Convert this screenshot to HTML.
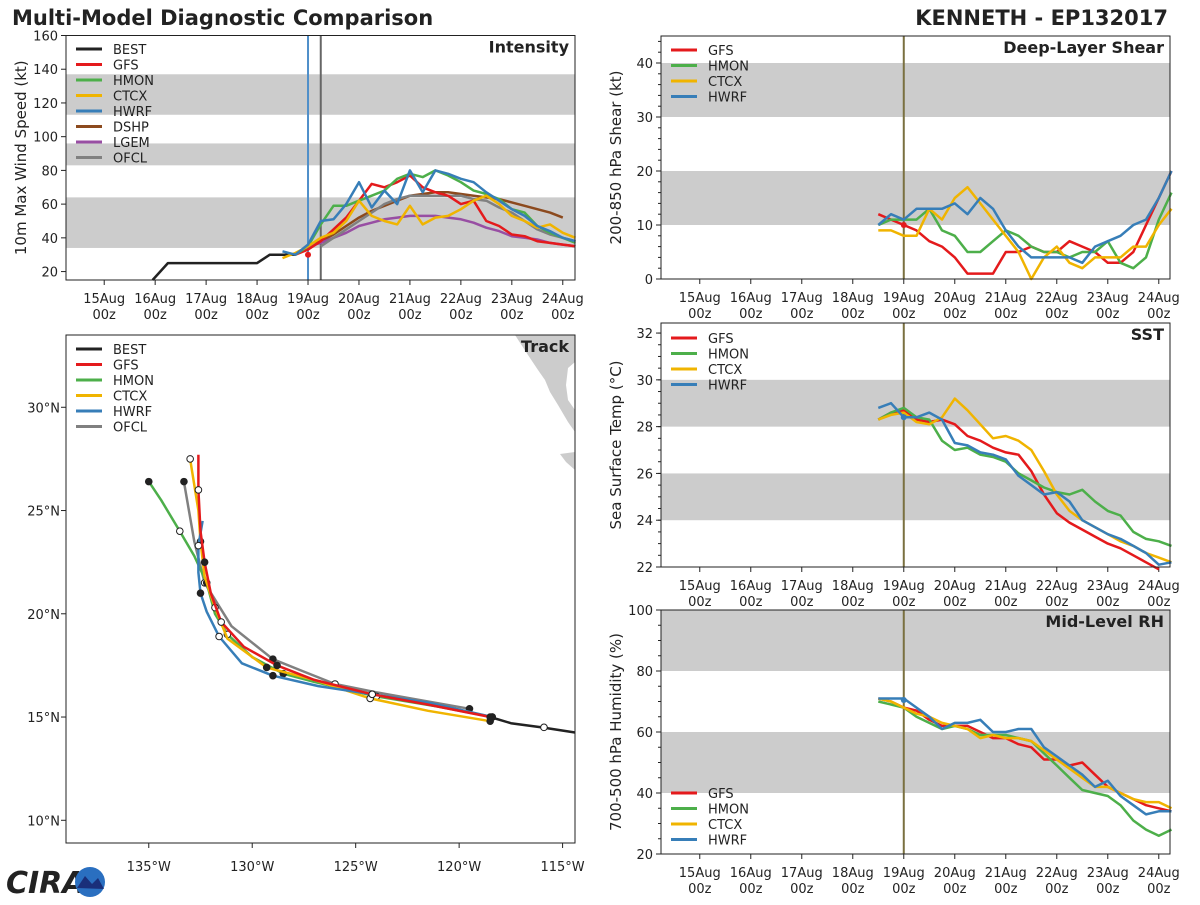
<!DOCTYPE html>
<html><head><meta charset="utf-8"><style>
body{margin:0;background:#fff;width:1200px;height:900px;overflow:hidden;font-family:"Liberation Sans","DejaVu Sans",sans-serif}
svg text{font-family:"DejaVu Sans","Liberation Sans",sans-serif;fill:#222}
</style></head><body>
<svg id="s" width="1200" height="900" xmlns="http://www.w3.org/2000/svg">
<text x="12" y="25" font-size="21" font-weight="bold" fill="#333">Multi-Model Diagnostic Comparison</text>
<text x="1168" y="25" font-size="21" font-weight="bold" text-anchor="end" fill="#333">KENNETH - EP132017</text>
<g>
<text x="6" y="893" font-size="30" font-weight="bold" fill="#1f3f8f" font-style="italic">CIRA</text>
<circle cx="90" cy="882" r="15" fill="#2a6fc0"/><path d="M77 888 L85 876 L92 884 L98 878 L104 889 Z" fill="#1a2f7a"/>
</g>
</svg>
<script>
const times=[3.5,3.75,4.0,4.25,4.5,4.75,5.0,5.25,5.5,5.75,6.0,6.25,6.5,6.75,7.0,7.25,7.5,7.75,8.0,8.25,8.5,8.75,9.0,9.25];
const bestT=[0.95,1.25,3.0,3.25,3.75,4.0];
const bestV=[15,25,25,30,30,35];
const gfsInt=[null,30,33,38,45,52,62,72,70,73,77,70,67,65,60,62,50,47,42,41,38,37,36,35];
const hmonInt=[null,30,35,48,59,59,62,65,68,75,78,76,80,77,73,68,66,63,57,55,47,43,40,37];
const ctcxInt=[28,31,35,40,43,50,62,53,50,48,59,48,52,53,57,62,65,60,53,50,46,48,43,40];
const hwrfInt=[32,30,36,50,51,60,73,58,68,60,80,67,80,78,75,73,67,62,57,53,47,44,40,38];
const dshpInt=[null,null,35,38,42,47,52,56,59,62,65,66,67,67,66,65,64,63,61,59,57,55,52,null];
const lgemInt=[null,null,35,37,40,43,47,49,51,52,53,53,53,52,51,49,46,44,41,40,39,37,36,35];
const ofclInt=[null,null,null,35,40,45,50,55,60,63,65,65,65,65,65,63,62,58,55,50,45,42,40,38];
const gfsShr=[12,11,10,9,7,6,4,1,1,1,5,5,6,5,5,7,6,5,3,3,5,10,15,20];
const hmonShr=[10,11,11,11,13,9,8,5,5,7,9,8,6,5,5,4,5,5,7,3,2,4,11,16];
const ctcxShr=[9,9,8,8,13,11,15,17,14,11,8,5,0,4,6,3,2,4,4,4,6,6,10,13];
const hwrfShr=[10,12,11,13,13,13,14,12,15,13,9,6,4,4,4,4,3,6,7,8,10,11,15,20];
const gfsSst=[28.3,28.6,28.7,28.3,28.2,28.3,28.1,27.6,27.4,27.1,26.9,26.8,26.1,25.1,24.3,23.9,23.6,23.3,23.0,22.8,22.5,22.2,21.9,null];
const hmonSst=[28.3,28.6,28.8,28.4,28.3,27.4,27.0,27.1,26.8,26.7,26.5,26.0,25.7,25.4,25.2,25.1,25.3,24.8,24.4,24.2,23.5,23.2,23.1,22.9];
const ctcxSst=[28.3,28.5,28.6,28.2,28.1,28.4,29.2,28.7,28.1,27.5,27.6,27.4,27.0,26.1,25.1,24.4,24.0,23.7,23.4,23.1,22.9,22.6,22.4,22.2];
const hwrfSst=[28.8,29.0,28.4,28.4,28.6,28.3,27.3,27.2,26.9,26.8,26.6,25.9,25.5,25.1,25.2,24.8,24.0,23.7,23.4,23.2,22.9,22.6,22.1,22.2];
const gfsRh=[71,70,68,67,64,62,62,62,60,58,58,56,55,51,51,49,50,46,42,40,38,36,35,34];
const hmonRh=[70,69,68,65,63,61,62,61,59,59,59,58,57,53,49,45,41,40,39,36,31,28,26,28];
const ctcxRh=[71,70,68,66,65,63,62,61,58,59,58,58,57,54,51,48,45,42,42,40,38,37,37,35];
const hwrfRh=[71,71,71,68,65,61,63,63,64,60,60,61,61,55,52,49,46,42,44,39,36,33,34,34];
const bestLon=[-114.4,-116,-117.5,-118.5];
const bestLat=[14.25,14.5,14.7,15.0];
const gfsLon=[-118.5,-121.5,-124.2,-127,-128.8,-130.4,-131.5,-132.0,-132.3,-132.5,-132.6,-132.6];
const gfsLat=[15.0,15.6,16.1,16.8,17.5,18.4,19.6,21.0,22.5,24,26,27.7];
const hmonLon=[-118.4,-121,-124,-127,-128.5,-130,-131.2,-131.8,-132.2,-132.8,-133.5,-134.4,-135];
const hmonLat=[15.0,15.5,16.0,16.7,17.1,17.9,19.0,20.0,21.5,22.8,24.0,25.5,26.4];
const ctcxLon=[-118.5,-121.5,-124.3,-127,-129.3,-131.2,-131.8,-132.3,-132.5,-132.6,-133];
const ctcxLat=[14.8,15.3,15.9,16.8,17.4,18.8,20.3,21.8,23.5,25,27.5];
const hwrfLon=[-118.4,-121.5,-124.2,-126.8,-129,-130.5,-131.6,-132.2,-132.5,-132.6,-132.6,-132.4];
const hwrfLat=[15.0,15.7,16.1,16.5,17.0,17.6,18.9,20.1,21.0,22.0,23.3,24.5];
const ofclLon=[-119.5,-124,-126,-127.5,-129,-131,-132.3,-132.8,-133.3];
const ofclLat=[15.4,16.2,16.6,17.2,17.8,19.4,21.5,23.5,26.4];
const dayLabels=['15Aug','16Aug','17Aug','18Aug','19Aug','20Aug','21Aug','22Aug','23Aug','24Aug'];
const C={BEST:'#222222',GFS:'#e41a1c',HMON:'#4daf4a',CTCX:'#f0b400',HWRF:'#377eb8',DSHP:'#8c4a1e',LGEM:'#984ea3',OFCL:'#808080'};
const S=document.getElementById('s');
const NS='http://www.w3.org/2000/svg';
function el(t,a,p){const e=document.createElementNS(NS,t);for(const k in a)e.setAttribute(k,a[k]);(p||S).appendChild(e);return e;}
function txt(x,y,s,a,p){const e=el('text',Object.assign({x:x,y:y},a),p);e.textContent=s;return e;}
function panel(name,x0,y0,x1,y1,xmin,xmax,ymin,ymax){
  const g=el('g',{});
  
  
  const P={g,x0,y0,x1,y1,sx:v=>x0+(v-xmin)/(xmax-xmin)*(x1-x0),sy:v=>y1-(v-ymin)/(ymax-ymin)*(y1-y0),ymin,ymax};
  return P;
}
function band(P,a,b){const ya=P.sy(Math.min(b,P.ymax)),yb=P.sy(Math.max(a,P.ymin));const r=el('rect',{x:P.x0,y:ya,width:P.x1-P.x0,height:yb-ya,fill:'#cccccc'},P.g);}
function frame(P){const r=el('rect',{x:P.x0,y:P.y0,width:P.x1-P.x0,height:P.y1-P.y0,fill:'none',stroke:'#222','stroke-width':1},P.g);}
function timeAxis(P,ly){for(let i=0;i<dayLabels.length;i++){const x=P.sx(i);el('line',{x1:x,y1:P.y1,x2:x,y2:P.y1+5,stroke:'#222'},P.g);
  const t=txt(x,ly,dayLabels[i],{'font-size':13,'text-anchor':'middle'},P.g);
  txt(x,ly+16,'00z',{'font-size':13,'text-anchor':'middle'},P.g);}}
function yAxis(P,ticks,minor,title){for(const v of ticks){const y=P.sy(v);el('line',{x1:P.x0-5,y1:y,x2:P.x0,y2:y,stroke:'#222'},P.g);
  const t=txt(P.x0-8,y+5,String(v),{'font-size':13,'text-anchor':'end'},P.g);}
  if(minor){for(let v=P.ymin;v<=P.ymax;v+=minor){const y=P.sy(v);el('line',{x1:P.x0-3,y1:y,x2:P.x0,y2:y,stroke:'#222'},P.g);}}
  const cy=(P.y0+P.y1)/2;const t=txt(0,0,title,{'font-size':15,'text-anchor':'middle',transform:`translate(${P.x0-40},${cy}) rotate(-90)`},P.g);}
function series(P,xs,ys,color,name){let d='';let pen=false;for(let i=0;i<xs.length;i++){if(ys[i]==null){pen=false;continue;}d+=(pen?'L':'M')+P.sx(xs[i]).toFixed(1)+' '+P.sy(ys[i]).toFixed(1);pen=true;}
  const p=el('path',{d:d,fill:'none',stroke:color,'stroke-width':2.5,'stroke-linejoin':'round'},P.g);return p;}
function legend(P,names,y0){let y=y0;for(const n of names){el('line',{x1:P.x0+10,y1:y,x2:P.x0+36,y2:y,stroke:C[n],'stroke-width':3},P.g);
  const t=txt(P.x0+47,y+5,n,{'font-size':13},P.g);y+=15.5;}}
function ptitle(P,s){const t=txt(P.x1-6,P.y0+17,s,{'font-size':16,'font-weight':'bold','text-anchor':'end',fill:'#333'},P.g);}
function vline(P,v,color){el('line',{x1:P.sx(v),y1:P.y0,x2:P.sx(v),y2:P.y1,stroke:color,'stroke-width':2},P.g);}

// Intensity
let P=panel('intensity-panel',66,35.5,575,280,-0.75,9.24,15,160);
band(P,34,64);band(P,83,96);band(P,113,137);
yAxis(P,[20,40,60,80,100,120,140,160],null,'10m Max Wind Speed (kt)');
timeAxis(P,303);
vline(P,4.0,'#4f8fc9');vline(P,4.25,'#666');
series(P,bestT,bestV,C.BEST,'best-line');
series(P,times,dshpInt,C.DSHP,'dshp-line');series(P,times,lgemInt,C.LGEM,'lgem-line');series(P,times,ofclInt,C.OFCL,'ofcl-line');
series(P,times,gfsInt,C.GFS,'gfs-line');series(P,times,hmonInt,C.HMON,'hmon-line');series(P,times,ctcxInt,C.CTCX,'ctcx-line');series(P,times,hwrfInt,C.HWRF,'hwrf-line');
el('circle',{cx:P.sx(4),cy:P.sy(30),r:3,fill:C.GFS},P.g);
frame(P);legend(P,['BEST','GFS','HMON','CTCX','HWRF','DSHP','LGEM','OFCL'],49);ptitle(P,'Intensity');

// Shear
P=panel('shear-panel',661,36,1170,279,-0.76,9.22,0,45);
band(P,10,20);band(P,30,40);
yAxis(P,[0,10,20,30,40],2,'200-850 hPa Shear (kt)');timeAxis(P,302);vline(P,4.0,'#7a7040');
series(P,times,gfsShr,C.GFS,'gfs-line');series(P,times,hmonShr,C.HMON,'hmon-line');series(P,times,ctcxShr,C.CTCX,'ctcx-line');series(P,times,hwrfShr,C.HWRF,'hwrf-line');
el('circle',{cx:P.sx(4),cy:P.sy(10),r:3,fill:C.GFS},P.g);
frame(P);legend(P,['GFS','HMON','CTCX','HWRF'],50);ptitle(P,'Deep-Layer Shear');

// SST
P=panel('sst-panel',661,323,1170,567,-0.76,9.22,22,32.43);
band(P,24,26);band(P,28,30);
yAxis(P,[22,24,26,28,30,32],0.5,'Sea Surface Temp (°C)');timeAxis(P,590);vline(P,4.0,'#7a7040');
series(P,times,gfsSst,C.GFS,'gfs-line');series(P,times,hmonSst,C.HMON,'hmon-line');series(P,times,ctcxSst,C.CTCX,'ctcx-line');series(P,times,hwrfSst,C.HWRF,'hwrf-line');
el('circle',{cx:P.sx(4),cy:P.sy(28.4),r:3,fill:C.HWRF},P.g);
frame(P);legend(P,['GFS','HMON','CTCX','HWRF'],338);ptitle(P,'SST');

// RH
P=panel('rh-panel',661,610,1170,854,-0.76,9.22,20,100);
band(P,40,60);band(P,80,100);
yAxis(P,[20,40,60,80,100],5,'700-500 hPa Humidity (%)');timeAxis(P,877);vline(P,4.0,'#7a7040');
series(P,times,gfsRh,C.GFS,'gfs-line');series(P,times,hmonRh,C.HMON,'hmon-line');series(P,times,ctcxRh,C.CTCX,'ctcx-line');series(P,times,hwrfRh,C.HWRF,'hwrf-line');
el('circle',{cx:P.sx(4),cy:P.sy(70.5),r:3,fill:C.HWRF},P.g);
frame(P);legend(P,['GFS','HMON','CTCX','HWRF'],793);ptitle(P,'Mid-Level RH');

// Track
P=panel('track-panel',66,335,575,843,-139,-114.4,8.9,33.5);
const land=el('path',{d:'M515 335 L575 335 L575 362 L568 368 L566 385 L568 400 L575 410 L575 432 L568 422 L558 405 L550 392 L545 380 L538 370 L528 355 Z M560 454 L575 452 L575 470 L566 462 Z',fill:'#cccccc'},P.g);

const lonT=[-135,-130,-125,-120,-115],latT=[10,15,20,25,30];
for(const v of lonT){const x=P.sx(v);el('line',{x1:x,y1:P.y1,x2:x,y2:P.y1+5,stroke:'#222'},P.g);const t=txt(x,871,Math.abs(v)+'°W',{'font-size':13,'text-anchor':'middle'},P.g);}
for(const v of latT){const y=P.sy(v);el('line',{x1:P.x0-5,y1:y,x2:P.x0,y2:y,stroke:'#222'},P.g);const t=txt(P.x0-6,y+5,v+'°N',{'font-size':13,'text-anchor':'end'},P.g);}
function track(xs,ys,c,n,mk){series(P,xs,ys,c,n);if(mk)for(let i=0;i<xs.length;i+=2){el('circle',{cx:P.sx(xs[i]),cy:P.sy(ys[i]),r:3.3,fill:(i/2)%2?'#fff':'#222',stroke:'#222','stroke-width':1},P.g);}}
track(ofclLon,ofclLat,C.OFCL,'ofcl-track',true);
track(hmonLon,hmonLat,C.HMON,'hmon-track',true);
track(ctcxLon,ctcxLat,C.CTCX,'ctcx-track',true);
track(hwrfLon,hwrfLat,C.HWRF,'hwrf-track',true);
track(gfsLon,gfsLat,C.GFS,'gfs-track',true);
track(bestLon,bestLat,C.BEST,'best-track',false);
el('circle',{cx:P.sx(-115.9),cy:P.sy(14.5),r:3.3,fill:'#fff',stroke:'#222'},P.g);
frame(P);legend(P,['BEST','GFS','HMON','CTCX','HWRF','OFCL'],349);ptitle(P,'Track');
</script>
</body></html>
